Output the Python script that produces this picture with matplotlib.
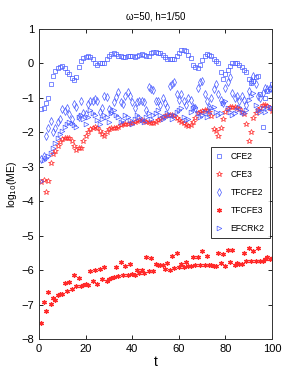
import numpy as np
import matplotlib
matplotlib.use("Agg")
import matplotlib.pyplot as plt

plt.rcParams['font.family'] = ['Liberation Sans', 'DejaVu Sans']

t = np.arange(1, 101)

cfe2 = [-1.32, -1.3, -1.15, -1.0, -0.61, -0.37, -0.23, -0.13, -0.09, -0.08,
        -0.13, -0.25, -0.3, -0.42, -0.47, -0.38, -0.1, 0.07, 0.15, 0.2,
        0.21, 0.18, 0.12, 0.02, -0.03, 0.0, 0.0, 0.0, 0.12, 0.21,
        0.28, 0.3, 0.28, 0.23, 0.21, 0.18, 0.18, 0.21, 0.23, 0.23,
        0.18, 0.22, 0.25, 0.28, 0.26, 0.21, 0.23, 0.3, 0.33, 0.34,
        0.31, 0.29, 0.26, 0.2, 0.14, 0.13, 0.12, 0.14, 0.21, 0.31,
        0.38, 0.4, 0.36, 0.26, 0.16, -0.03, -0.1, -0.12, -0.03, 0.1,
        0.21, 0.28, 0.26, 0.21, 0.14, 0.07, 0.0, -0.25, -0.45, -0.3,
        -0.2, -0.06, 0.01, 0.02, 0.02, -0.03, -0.09, -0.18, -0.25, -0.45,
        -0.57, -0.5, -0.4, -0.35, -0.9, -1.85, -1.0, -0.8, -0.75, -0.6]

cfe3 = [-3.44, -3.39, -3.73, -3.41, -2.9, -2.63, -2.54, -2.39, -2.29, -2.2,
        -2.15, -2.15, -2.17, -2.26, -2.39, -2.52, -2.46, -2.44, -2.24, -2.1,
        -2.0, -1.9, -1.86, -1.84, -1.86, -1.95, -2.05, -2.1, -2.0, -1.9,
        -1.86, -1.86, -1.88, -1.85, -1.8, -1.77, -1.75, -1.75, -1.74, -1.72,
        -1.7, -1.67, -1.65, -1.64, -1.66, -1.69, -1.71, -1.73, -1.74, -1.7,
        -1.65, -1.6, -1.56, -1.53, -1.5, -1.5, -1.51, -1.53, -1.58, -1.64,
        -1.7, -1.74, -1.8, -1.82, -1.8, -1.7, -1.58, -1.45, -1.4, -1.37,
        -1.35, -1.36, -1.4, -1.52, -1.9, -1.95, -2.1, -1.86, -1.6, -1.42,
        -1.32, -1.27, -1.26, -1.26, -1.28, -1.31, -1.4, -1.47, -1.76, -2.24,
        -2.0, -1.57, -1.43, -1.35, -1.3, -1.22, -1.22, -1.24, -1.3, -1.37]

tfcfe2 = [-2.78, -2.7, -2.1, -1.86, -1.66, -2.0, -1.86, -1.69, -1.61, -1.32,
          -1.39, -1.3, -1.47, -1.6, -1.18, -1.25, -1.55, -1.08, -1.43, -1.47,
          -1.17, -1.08, -1.08, -1.03, -1.08, -1.4, -1.28, -0.93, -0.98, -1.32,
          -1.37, -1.13, -0.98, -0.84, -1.13, -1.18, -0.93, -0.84, -0.93, -1.13,
          -1.28, -1.13, -1.08, -1.08, -1.13, -1.35, -0.69, -0.74, -0.78, -1.08,
          -1.1, -1.2, -1.0, -1.15, -1.25, -0.65, -0.59, -0.55, -0.88, -1.05,
          -0.9, -1.1, -1.2, -1.0, -1.05, -1.25, -1.3, -0.7, -0.55, -0.5,
          -0.9, -1.1, -1.25, -1.0, -0.75, -0.59, -0.9, -1.05, -1.15, -0.7,
          -0.55, -0.4, -0.85, -1.0, -0.95, -1.1, -0.95, -1.05, -1.2, -0.8,
          -0.5, -0.35, -0.6, -0.95, -1.0, -0.85, -0.7, -0.75, -0.7, -0.75]

tfcfe3 = [-7.54, -6.94, -7.18, -6.65, -6.99, -6.81, -6.86, -6.71, -6.69, -6.68,
          -6.36, -6.62, -6.35, -6.54, -6.13, -6.47, -6.23, -6.47, -6.42, -6.41,
          -6.42, -6.02, -6.33, -5.99, -6.39, -5.97, -6.25, -5.92, -6.31, -6.26,
          -6.24, -6.2, -5.91, -6.17, -5.76, -6.13, -5.89, -6.13, -5.81, -6.11,
          -6.13, -5.99, -6.09, -5.99, -6.09, -5.62, -6.04, -5.65, -6.04, -5.81,
          -5.86, -5.86, -5.86, -5.96, -5.79, -6.01, -5.58, -5.94, -5.5, -5.92,
          -5.83, -5.92, -5.76, -5.88, -5.88, -5.62, -5.86, -5.62, -5.85, -5.45,
          -5.85, -5.59, -5.85, -5.85, -5.87, -5.89, -5.5, -5.8, -5.52, -5.89,
          -5.43, -5.77, -5.43, -5.86, -5.79, -5.81, -5.82, -5.5, -5.75, -5.35,
          -5.73, -5.45, -5.73, -5.37, -5.73, -5.73, -5.69, -5.63, -5.67, -5.65]

efcrk2 = [-3.4, -2.8, -2.75, -2.7, -2.6, -2.45, -2.3, -2.15, -2.05, -1.95,
          -1.85, -1.75, -1.7, -1.72, -1.78, -1.85, -1.55, -1.5, -1.6, -1.75,
          -1.55, -1.35, -1.45, -1.5, -1.65, -1.75, -1.6, -1.5, -1.55, -1.7,
          -1.45, -1.35, -1.5, -1.55, -1.7, -1.65, -1.5, -1.55, -1.65, -1.75,
          -1.6, -1.5, -1.55, -1.65, -1.7, -1.55, -1.45, -1.6, -1.5, -1.45,
          -1.35, -1.5, -1.6, -1.55, -1.45, -1.5, -1.6, -1.5, -1.4, -1.35,
          -1.3, -1.55, -1.65, -1.6, -1.4, -1.3, -1.25, -1.45, -1.55, -1.5,
          -1.4, -1.55, -1.45, -1.3, -1.25, -1.4, -1.5, -1.45, -1.15, -1.1,
          -1.3, -1.4, -1.5, -1.45, -1.35, -1.25, -1.4, -1.45, -1.35, -1.05,
          -0.95, -0.85, -1.2, -1.35, -1.4, -1.3, -1.4, -1.3, -1.25, -1.3]

labels = ['CFE2', 'CFE3', 'TFCFE2', 'TFCFE3', 'EFCRK2']
xticks = [0, 20, 40, 60, 80, 100]
yticks = [-8, -7, -6, -5, -4, -3, -2, -1, 0, 1]

blue = '#4a5cff'
red = '#ff2a2a'

fig = plt.figure(figsize=(3.0, 3.82), dpi=100)
ax = fig.add_axes([0.13, 0.1126, 0.777, 0.8114])

ms = 3.4
mew = 0.5
ax.plot(t, cfe2, ls='none', marker='s', ms=ms - 0.3, mfc='none', mec=blue, mew=mew, label=labels[0])
ax.plot(t, cfe3, ls='none', marker='*', ms=ms + 0.8, mfc='none', mec=red, mew=mew, label=labels[1])
ax.plot(t, tfcfe2, ls='none', marker='d', ms=ms + 0.4, mfc='none', mec=blue, mew=mew, label=labels[2])
ax.plot(t, tfcfe3, ls='none', marker=(6, 2, 0), ms=ms, mfc=red, mec=red, mew=0.9, label=labels[3])
ax.plot(t, efcrk2, ls='none', marker='>', ms=ms, mfc='none', mec=blue, mew=mew, label=labels[4])

ax.set_xlim(0, 100)
ax.set_ylim(-8, 1)
ax.set_xticks(xticks)
ax.set_yticks(yticks)
ax.set_yticklabels([str(v).replace('-', '\u2212') for v in yticks])
ax.tick_params(direction='in', top=True, right=True, labelsize=8, length=3, width=0.6)
for s in ax.spines.values():
    s.set_linewidth(0.7)
    s.set_color('#333333')

ax.set_title('\u03c9=50, h=1/50', fontsize=7, pad=7)
ax.set_xlabel('t', fontsize=10, labelpad=1)
ax.set_ylabel('log$_{10}$(ME)', fontsize=7.5, labelpad=2)

leg = ax.legend(loc='upper right', bbox_to_anchor=(0.99, 0.62), fontsize=6.2,
                frameon=True, fancybox=False, edgecolor='black', handlelength=0.8,
                handletextpad=0.9, borderpad=0.6, labelspacing=1.05, borderaxespad=0)
leg.get_frame().set_linewidth(0.7)

fig.savefig('out.png', dpi=100)
